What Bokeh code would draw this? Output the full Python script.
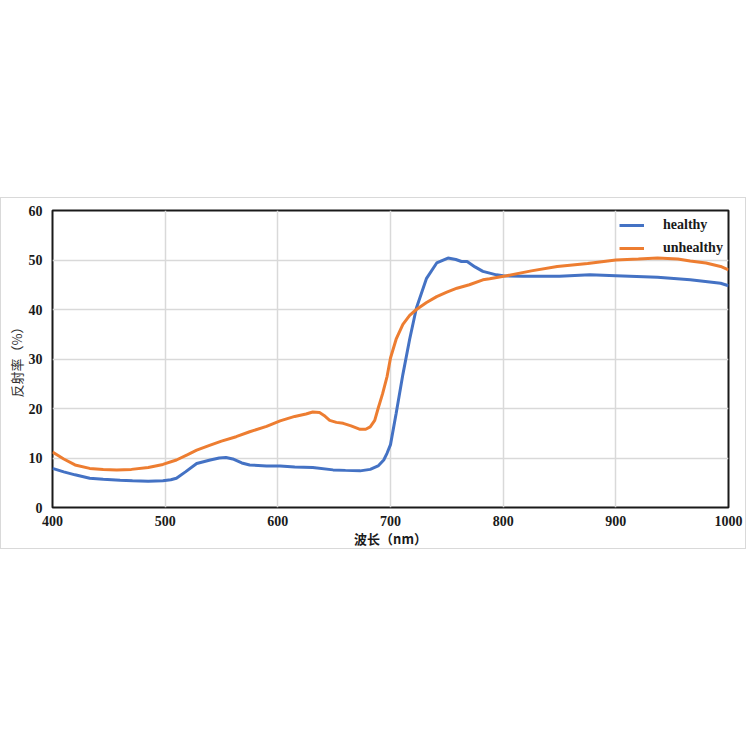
from bokeh.plotting import figure
from bokeh.models import Range1d, FixedTicker, Legend, LegendItem, Spacer
from bokeh.layouts import column
from bokeh.embed import file_html
from bokeh.resources import INLINE

# ---- data ----
healthy_wl = [400, 410, 420, 433, 445, 460, 471, 485, 498, 505, 510, 518, 528, 540, 548, 554, 560,
              568, 575, 590, 602, 615, 631, 649, 660, 673, 682, 689, 694, 697, 700, 705, 711,
              717, 723, 732, 741, 751, 758, 763, 768, 775, 782, 794, 800, 818, 850, 877, 900,
              937, 966, 993, 1000]
healthy_val = [7.9, 7.2, 6.6, 5.9, 5.7, 5.5, 5.4, 5.3, 5.4, 5.6, 5.9, 7.2, 8.9, 9.6, 10.0, 10.1, 9.8,
               9.0, 8.6, 8.4, 8.4, 8.2, 8.1, 7.6, 7.5, 7.4, 7.7, 8.4, 9.6, 11.0, 12.7, 19.0, 26.9,
               34.0, 40.3, 46.3, 49.4, 50.4, 50.1, 49.7, 49.7, 48.6, 47.7, 47.0, 46.8, 46.7, 46.7, 47.0, 46.8,
               46.5, 46.0, 45.3, 44.8]

unhealthy_wl = [400, 410, 420, 433, 445, 457, 470, 485, 498, 510, 520, 528, 540, 550, 563, 575, 590,
                602, 615, 625, 631, 637, 641, 646, 652, 658, 665, 673, 678, 682, 686, 689, 693,
                697, 700, 705, 711, 717, 723, 732, 741, 750, 759, 770, 782, 788, 803, 825, 848,
                875, 900, 920, 937, 955, 966, 980, 993, 1000]
unhealthy_val = [11.2, 9.8, 8.6, 7.9, 7.7, 7.6, 7.7, 8.1, 8.7, 9.6, 10.7, 11.6, 12.6, 13.4, 14.3, 15.3, 16.4,
                 17.5, 18.4, 18.9, 19.3, 19.2, 18.6, 17.6, 17.2, 17.0, 16.5, 15.8, 15.8, 16.3, 17.6, 20.0, 23.0,
                 26.5, 30.2, 34.0, 37.0, 38.8, 40.0, 41.4, 42.6, 43.5, 44.3, 45.0, 46.0, 46.2, 46.8, 47.8, 48.7,
                 49.3, 50.0, 50.2, 50.4, 50.2, 49.8, 49.4, 48.7, 48.0]

x_ticks = [400, 500, 600, 700, 800, 900, 1000]
y_ticks = [0, 10, 20, 30, 40, 50, 60]

BLUE = "#4472C4"
ORANGE = "#ED7D31"
SERIF = "Liberation Serif"

p = figure(width=746, height=352, output_backend="svg", toolbar_location=None,
           x_range=Range1d(400, 1000), y_range=Range1d(0, 60),
           min_border_left=51, min_border_right=19, min_border_top=12, min_border_bottom=43,
           background_fill_color="white", border_fill_color="white",
           styles={"border": "1px solid #d9d9d9", "box-sizing": "border-box"})

p.outline_line_color = "#1a1a1a"
p.outline_line_width = 2
p.xgrid.grid_line_color = "#d9d9d9"
p.ygrid.grid_line_color = "#d9d9d9"
p.xgrid.grid_line_width = 1.5
p.ygrid.grid_line_width = 1.5

for ax in (p.xaxis[0], p.yaxis[0]):
    ax.axis_line_color = None
    ax.major_tick_line_color = None
    ax.minor_tick_line_color = None
    ax.major_tick_out = 0
    ax.major_tick_in = 0
    ax.minor_tick_out = 0
    ax.minor_tick_in = 0
    ax.major_label_text_font = SERIF
    ax.major_label_text_font_style = "bold"
    ax.major_label_text_font_size = "14px"
    ax.major_label_text_color = "#1a1a1a"

p.xaxis.major_label_standoff = 8
p.yaxis.major_label_standoff = 10
p.xaxis.ticker = FixedTicker(ticks=x_ticks)
p.yaxis.ticker = FixedTicker(ticks=y_ticks)

p.xaxis.axis_label = "波长（nm）"
p.xaxis.axis_label_text_font = "Noto Sans CJK SC"
p.xaxis.axis_label_text_font_style = "bold"
p.xaxis.axis_label_text_font_size = "13px"
p.xaxis.axis_label_text_color = "#1a1a1a"
p.xaxis.axis_label_standoff = 0

p.yaxis.axis_label = "反射率（%）"
p.yaxis.axis_label_text_font = "Noto Sans CJK SC"
p.yaxis.axis_label_text_font_style = "normal"
p.yaxis.axis_label_text_font_size = "13px"
p.yaxis.axis_label_text_color = "#333333"
p.yaxis.axis_label_standoff = 0

r1 = p.line(healthy_wl, healthy_val, line_color=BLUE, line_width=3)
r2 = p.line(unhealthy_wl, unhealthy_val, line_color=ORANGE, line_width=3)

legend = Legend(items=[LegendItem(label="healthy", renderers=[r1]),
                       LegendItem(label="unhealthy", renderers=[r2])],
                location=(567, 249))
legend.border_line_color = None
legend.background_fill_alpha = 0
legend.label_text_font = SERIF
legend.label_text_font_style = "bold"
legend.label_text_font_size = "14px"
legend.label_text_color = "#1a1a1a"
legend.glyph_width = 25
legend.glyph_height = 20
legend.label_standoff = 19
legend.spacing = 3
legend.margin = 0
legend.padding = 5
p.add_layout(legend)

layout = column(Spacer(height=197, width=746), p)

open("out.html", "w").write(file_html(layout, INLINE))
